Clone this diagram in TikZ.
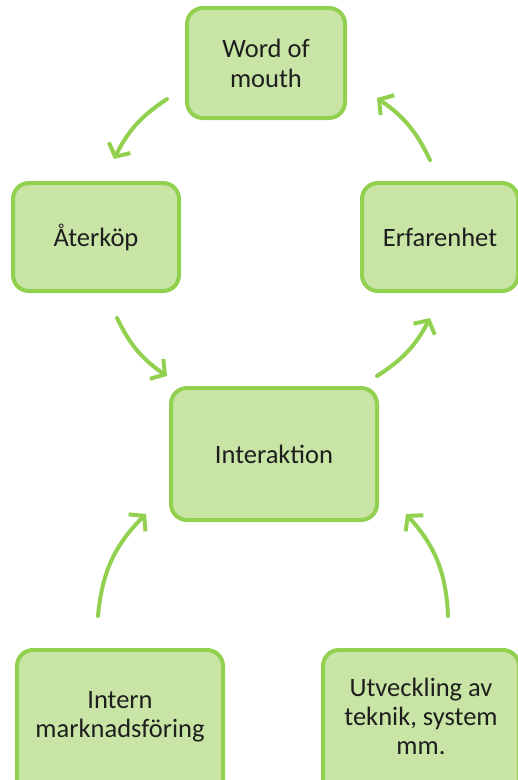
\documentclass[tikz,border=0pt]{standalone}
\usepackage{fontspec}
\setmainfont{Carlito}
\usetikzlibrary{arrows.meta}
\definecolor{boxfill}{RGB}{200,229,166}
\definecolor{boxline}{RGB}{146,208,80}
\definecolor{txt}{RGB}{30,30,30}
\tikzset{
  box/.style={draw=boxline, fill=boxfill, line width=4pt, rounded corners=16pt,
    text=txt, align=center, font=\fontsize{26.5}{30}\selectfont, inner sep=0pt},
  lbl/.style={text=txt, align=center, font=\fontsize{26.5}{29}\selectfont, inner sep=0pt},
  flow/.style={draw=boxline, line width=4pt, line cap=round,
    -{Straight Barb[length=10pt,width=24pt,line width=4pt]}}
}
\begin{document}
\begin{tikzpicture}[x=1pt,y=-1pt]
\useasboundingbox (0,0) rectangle (518,780);
\fill[white] (0,0) rectangle (518,780);
\node[box, minimum width=158pt, minimum height=110pt] (wom) at (266,63) {Word of\\mouth};
\node[box, minimum width=166pt, minimum height=108pt] (ater) at (96,237) {Återköp};
\node[box, minimum width=156pt, minimum height=108pt] (erf) at (440,237) {Erfarenhet};
\node[box, minimum width=206pt, minimum height=132pt] (inter) at (274,454) {Interaktion};
\node[box, minimum width=206pt, minimum height=150pt] (intern) at (120,725) {};
\node[lbl] (interntxt) at (120,717) {Intern\\marknadsföring};
\node[box, minimum width=196pt, minimum height=150pt] (utv) at (421,725) {};
\node[lbl] (utvtxt) at (421,716) {Utveckling av\\teknik, system\\mm.};
\coordinate (a1s) at (167,99);  \coordinate (a1e) at (114,159);
\coordinate (a2s) at (117,318); \coordinate (a2e) at (167,376);
\coordinate (a3s) at (377,376); \coordinate (a3e) at (430,318);
\coordinate (a4s) at (430,160); \coordinate (a4e) at (377,98);
\coordinate (a5s) at (98,616);  \coordinate (a5e) at (146,514);
\coordinate (a6s) at (448,616); \coordinate (a6e) at (406,514);
\draw[flow] (a1s) to[bend right=15] (a1e);
\draw[flow] (a2s) to[bend right=15] (a2e);
\draw[flow] (a3s) to[bend right=15] (a3e);
\draw[flow] (a4s) to[bend right=15] (a4e);
\draw[flow] (a5s) to[bend left=20] (a5e);
\draw[flow] (a6s) to[bend right=20] (a6e);
\end{tikzpicture}
\end{document}
